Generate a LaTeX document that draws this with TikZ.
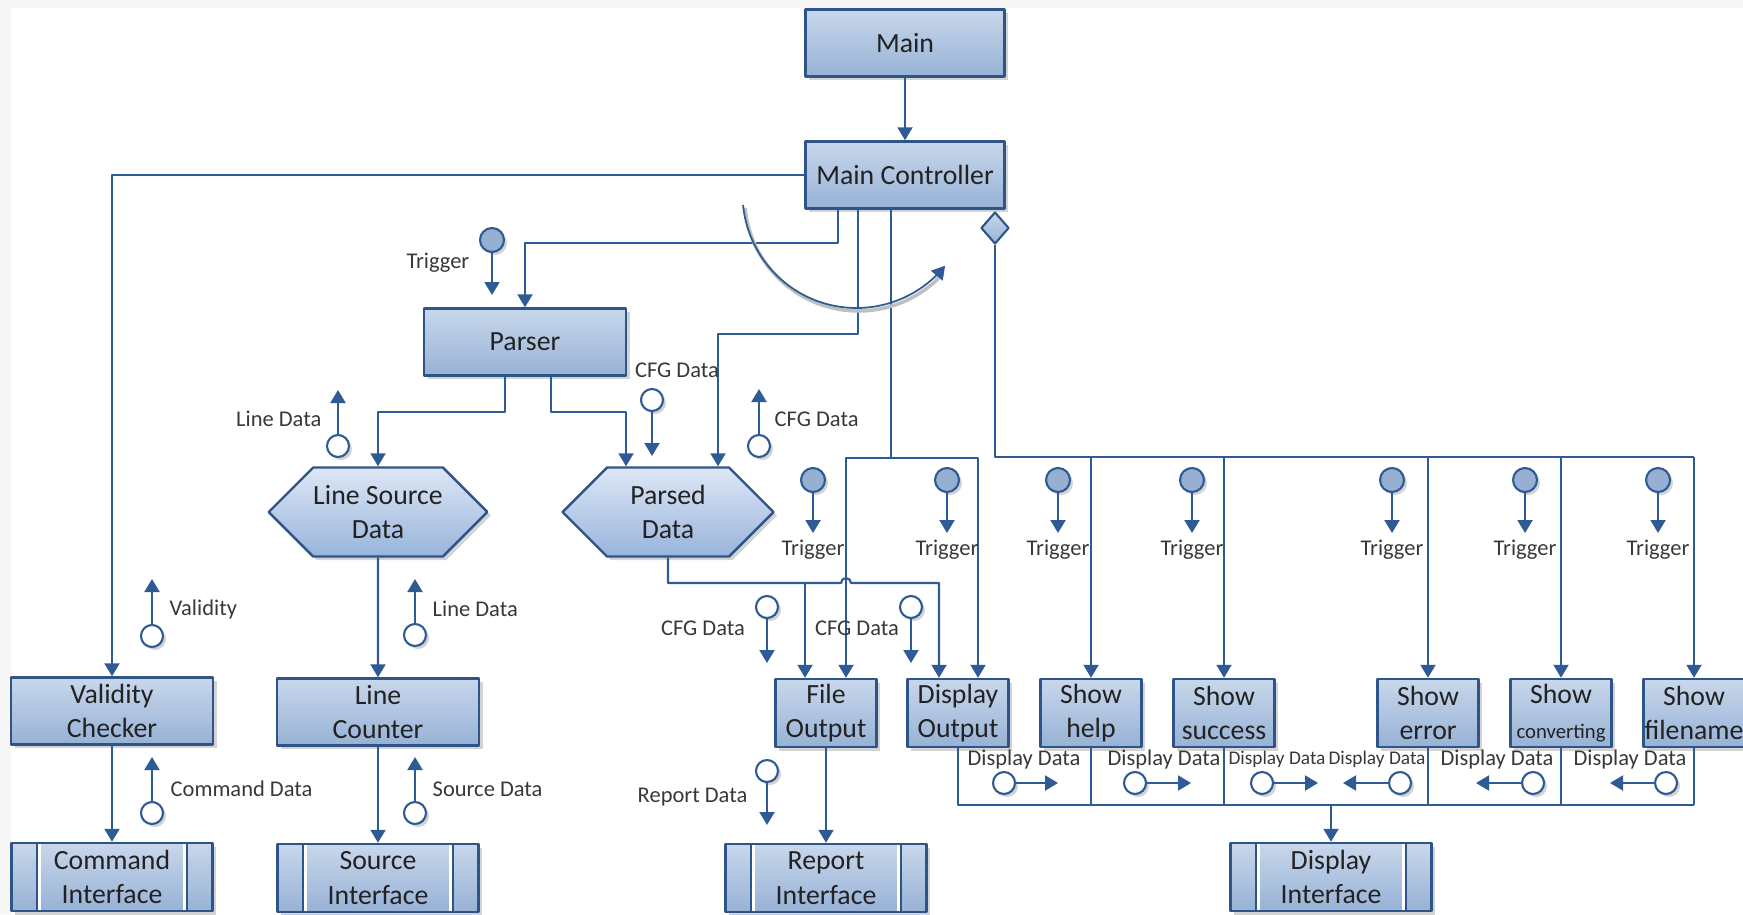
\documentclass[tikz,border=0pt]{standalone}
\usepackage{fontspec}
\setmainfont{Carlito}
\usepackage{tikz}
\usetikzlibrary{arrows.meta,shapes.geometric,shapes.symbols,shadows}
\definecolor{linkc}{HTML}{2E5A95}
\definecolor{edge}{HTML}{2F5488}
\definecolor{boxtop}{HTML}{C8D7EB}
\definecolor{boxbot}{HTML}{97B2D6}
\definecolor{hextop}{HTML}{DDE7F5}
\definecolor{hexbot}{HTML}{98B4DC}
\definecolor{dotc}{HTML}{97B0D2}
\definecolor{ink}{HTML}{222222}
\tikzset{
  every picture/.style={line join=round, >={Triangle[width=1.5mm,length=1.3mm]}},
  link/.style={draw=linkc, line width=0.6pt},
  proc/.style={draw=edge, line width=0.7pt, top color=boxtop, bottom color=boxbot,
    minimum width=19.9mm, minimum height=6.7mm, inner sep=0pt, align=center, text=ink,
    font=\fontsize{7.9pt}{9.8pt}\selectfont,
    drop shadow={shadow xshift=0.35mm, shadow yshift=-0.35mm, opacity=0.35}},
  task/.style={proc, minimum width=10.1mm, minimum height=6.8mm},
  hexa/.style={proc, signal, signal to=east and west, signal pointer angle=90,
    top color=hextop, bottom color=hexbot, minimum width=21.1mm, minimum height=8.9mm},
  iface/.style={proc, minimum width=20.1mm, minimum height=6.8mm,
    path picture={
      \draw[white, line width=1pt]
        ([xshift=2.75mm]path picture bounding box.north west) -- ([xshift=2.75mm]path picture bounding box.south west)
        ([xshift=-2.75mm]path picture bounding box.north east) -- ([xshift=-2.75mm]path picture bounding box.south east);
      \draw[edge, line width=0.4pt]
        ([xshift=2.55mm]path picture bounding box.north west) -- ([xshift=2.55mm]path picture bounding box.south west)
        ([xshift=-2.55mm]path picture bounding box.north east) -- ([xshift=-2.55mm]path picture bounding box.south east);}},
  lolli/.style={circle, draw=linkc, fill=white, line width=0.6pt, minimum size=2.2mm, inner sep=0pt,
    drop shadow={shadow xshift=0.3mm, shadow yshift=-0.3mm, opacity=0.35}},
  trig/.style={lolli, fill=dotc, minimum size=2.4mm},
  lbl/.style={inner sep=0pt, text=ink!90, font=\fontsize{6.4pt}{7pt}\selectfont},
  tiny lbl/.style={lbl, font=\fontsize{5.5pt}{7pt}\selectfont},
}

\begin{document}
\begin{tikzpicture}[x=0.1mm,y=-0.1mm]
\useasboundingbox (0,0) rectangle (1743,914);
\fill[black!3] (0,0) rectangle (11,914) (0,0) rectangle (1743,8);

\node[proc] (main) at (905,43) {Main};
\node[proc] (mc) at (905,175) {Main Controller};
\node[diamond, draw=edge, line width=0.6pt, top color=boxtop, bottom color=boxbot,
  minimum width=2.8mm, minimum height=3.2mm, inner sep=0pt] (dm) at (995,228) {};
\node[proc, minimum width=20.2mm] (pr) at (525,342) {Parser};
\node[hexa] (lsd) at (378,512) {Line Source\\Data};
\node[hexa] (pd) at (668,512) {Parsed\\Data};
\node[proc, minimum width=20.2mm] (vc) at (112,711) {Validity\\Checker};
\node[proc, minimum width=20.2mm] (lc) at (378,712) {Line\\Counter};
\node[iface] (ci) at (112,877) {Command\\Interface};
\node[iface] (si) at (378,878) {Source\\Interface};
\node[iface] (ri) at (826,878) {Report\\Interface};
\node[iface] (di) at (1331,877) {Display\\Interface};
\node[task] (fo) at (826,713) {File\\Output};
\node[task] (dout) at (958,713) {Display\\Output};
\node[task] (sh) at (1091,713) {Show\\help};
\node[task] (ss) at (1224,713) {Show\\success};
\node[task] (se) at (1428,713) {Show\\error};
\node[task] (sc) at (1561,713) {Show\\{\fontsize{5.9pt}{7pt}\selectfont converting}};
\node[task] (sf) at (1694,713) {Show\\filename};

\coordinate (m1) at ([xshift=-6.7mm]mc.south);
\coordinate (m2) at ([xshift=-4.7mm]mc.south);
\coordinate (m3) at ([xshift=-1.4mm]mc.south);
\coordinate (pr1) at ([xshift=-2mm]pr.south);
\coordinate (pr2) at ([xshift=2.6mm]pr.south);
\coordinate (pd1) at ([xshift=-4.2mm]pd.north);
\coordinate (pd2) at ([xshift=5mm]pd.north);
\coordinate (fo1) at ([xshift=-2.1mm]fo.north);
\coordinate (fo2) at ([xshift=2mm]fo.north);
\coordinate (do1) at ([xshift=-1.9mm]dout.north);
\coordinate (do2) at ([xshift=2mm]dout.north);
\coordinate (hp) at (846,583);
\path (m3) ++(0,248) coordinate (mb);
\path (dm.south) ++(0,212) coordinate (rb);
\path (dout.south) ++(0,57) coordinate (db);

\draw[link,->] (main) -- (mc);
\draw[link,->] (mc.west) -| (vc);
\draw[link,->] (m1) -- ++(0,33) -| (pr);
\draw[link,->] (m2) -- ++(0,124) -| (pd2);
\draw[link,->] (pr1) -- ++(0,35) -| (lsd);
\draw[link,->] (pr2) -- ++(0,35) -| (pd1);
\draw[link,->] (lsd) -- (lc);
\draw[link,->] (lc) -- (si);
\draw[link,->] (vc) -- (ci);
\draw[link,->] (fo) -- (ri);
\draw[link,->] (pd.south) |- ([xshift=-0.5mm]hp) arc[start angle=180, end angle=0, radius=0.5mm] -| (do1);
\draw[link,->] (fo1 |- hp) -- (fo1);
\draw[link] (m3) -- (mb);
\draw[link,->] (mb) -| (fo2);
\draw[link,->] (mb) -| (do2);
\draw[link] (dm.south) -- (rb) -- (rb -| sf.north);
\foreach \n in {sh,ss,se,sc,sf} \draw[link,->] (rb -| \n.north) -- (\n.north);
\draw[link] (dout.south) -- (db) -- (db -| sf.south);
\foreach \n in {sh,ss,se,sc,sf} \draw[link] (\n.south) -- (\n.south |- db);
\draw[link,->] (di.north |- db) -- (di);

\draw[black!25, line width=1pt, shift={(2,3)}] plot[smooth, samples=40, domain=185.5:318, variable=\t] ({856.5+114*cos(\t)},{194-114*sin(\t)});
\draw[link, line width=0.5pt, ->] plot[smooth, samples=40, domain=185.5:321, variable=\t] ({856.5+114*cos(\t)},{194-114*sin(\t)});

\node[trig] (tp) at (492,240) {};
\draw[link,->] (tp) -- ++(0,55);
\node[lbl, anchor=east] (tpl) at (470,263) {Trigger};
\foreach \x/\n in {813/t1, 947/t2, 1058/t3, 1192/t4, 1392/t5, 1525/t6, 1658/t7} {
  \node[trig] (\n) at (\x,480) {};
  \draw[link,->] (\n) -- ++(0,53);
  \node[lbl] (\n l) at (\x,550) {Trigger};
}

\node[lolli] (cf1) at (652,400) {};
\draw[link,->] (cf1) -- ++(0,56);
\node[lbl] (cf1l) at (677,370) {CFG Data};
\node[lolli] (cf2) at (759,446) {};
\draw[link,->] (cf2) -- ++(0,-57);
\node[lbl, anchor=west] (cf2l) at (774,419) {CFG Data};
\node[lolli] (cf3) at (767,607) {};
\draw[link,->] (cf3) -- ++(0,56);
\node[lbl] (cf3l) at (703,628) {CFG Data};
\node[lolli] (cf4) at (911,607) {};
\draw[link,->] (cf4) -- ++(0,56);
\node[lbl] (cf4l) at (857,628) {CFG Data};
\node[lolli] (rd) at (767,771) {};
\draw[link,->] (rd) -- ++(0,54);
\node[lbl, anchor=east] (rdl) at (748,797) {Report Data};
\node[lolli] (ld1) at (338,446) {};
\draw[link,->] (ld1) -- ++(0,-56);
\node[lbl, anchor=east] (ld1l) at (322,419) {Line Data};
\node[lolli] (va) at (152,636) {};
\draw[link,->] (va) -- ++(0,-57);
\node[lbl, anchor=west] (val) at (169,609) {Validity};
\node[lolli] (ld2) at (415,635) {};
\draw[link,->] (ld2) -- ++(0,-56);
\node[lbl, anchor=west] (ld2l) at (432,609) {Line Data};
\node[lolli] (cd) at (152,813) {};
\draw[link,->] (cd) -- ++(0,-56);
\node[lbl, anchor=west] (cdl) at (170,789) {Command Data};
\node[lolli] (sd) at (415,813) {};
\draw[link,->] (sd) -- ++(0,-56);
\node[lbl, anchor=west] (sdl) at (432,789) {Source Data};

\foreach \x/\l/\d/\n in {1004/1024/54/dd1, 1135/1164/56/dd2, 1533/1497/-57/dd5, 1666/1630/-56/dd6} {
  \node[lolli] (\n) at (\x,783) {};
  \draw[link,->] (\n) -- ++(\d,0);
  \node[lbl] (\n l) at (\l,759) {Display Data};
}
\foreach \x/\l/\d/\n in {1262/1277/56/dd3, 1400/1377/-57/dd4} {
  \node[lolli] (\n) at (\x,783) {};
  \draw[link,->] (\n) -- ++(\d,0);
  \node[tiny lbl] (\n l) at (\l,759) {Display Data};
}
\end{tikzpicture}
\end{document}
